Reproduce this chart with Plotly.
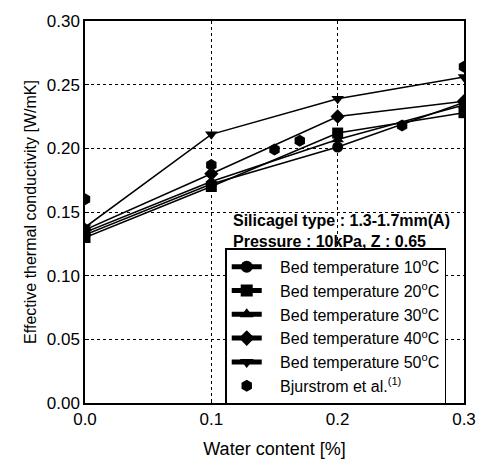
import plotly.graph_objects as go

water = [0.0, 0.1, 0.2, 0.3]
t10 = [0.132, 0.172, 0.201, 0.236]
t20 = [0.130, 0.170, 0.212, 0.228]
t30 = [0.134, 0.174, 0.207, 0.234]
t40 = [0.136, 0.180, 0.225, 0.237]
t50 = [0.138, 0.211, 0.239, 0.256]
bj_x = [0.0, 0.1, 0.150, 0.170, 0.251, 0.3]
bj_y = [0.160, 0.187, 0.199, 0.206, 0.218, 0.264]

PAD = "\u00a0\u00a0\u00a0"
series = [
    ("Bed temperature 10<sup>o</sup>C", t10, "circle"),
    ("Bed temperature 20<sup>o</sup>C", t20, "square"),
    ("Bed temperature 30<sup>o</sup>C", t30, "triangle-up"),
    ("Bed temperature 40<sup>o</sup>C", t40, "diamond"),
    ("Bed temperature 50<sup>o</sup>C", t50, "triangle-down"),
]

FONT = "Liberation Sans, Arial, sans-serif"

fig = go.Figure()
for name, ys, sym in series:
    fig.add_trace(go.Scatter(
        x=water, y=ys, name=PAD + name, mode="lines+markers",
        line=dict(color="black", width=1.5),
        marker=dict(symbol=sym, size=11, color="black"),
    ))
fig.add_trace(go.Scatter(
    x=bj_x, y=bj_y, name=PAD + "Bjurstrom et al.<sup>(1)</sup>", mode="markers",
    marker=dict(symbol="hexagon", size=12, color="black"),
))

axis_common = dict(
    showline=True, linecolor="black", linewidth=1.5, mirror=True,
    showgrid=True, gridcolor="black", griddash="dot", gridwidth=1,
    zeroline=False, ticks="inside", ticklen=4, tickcolor="black",
    tickfont=dict(family=FONT, size=17, color="black"),
)

fig.update_xaxes(range=[0, 0.3], tickvals=[0.0, 0.1, 0.2, 0.3], tickformat=".1f",
                 title=dict(text="Water content [%]", standoff=14,
                            font=dict(family=FONT, size=18, color="black")),
                 **axis_common)
fig.update_yaxes(range=[0, 0.3], dtick=0.05, tickformat=".2f",
                 title=dict(text="Effective thermal conductivity [W/mK]", standoff=6,
                            font=dict(family=FONT, size=16, color="black")),
                 **axis_common)

fig.add_annotation(
    x=0.385, y=0.505, xref="paper", yref="paper", xanchor="left", yanchor="top",
    text="<b>Silicagel type : 1.3-1.7mm(A)</b><br><b>Pressure : 10kPa, Z : 0.65</b>",
    showarrow=False, align="left",
    font=dict(family=FONT, size=16, color="black"),
)

fig.update_layout(
    width=488, height=468,
    margin=dict(l=85, r=19, t=15, b=61),
    paper_bgcolor="white", plot_bgcolor="white",
    font=dict(family=FONT, size=16, color="black"),
    legend=dict(x=0.37, y=0.405, xanchor="left", yanchor="top",
                bgcolor="white", bordercolor="black", borderwidth=1.5,
                font=dict(family=FONT, size=16, color="black"), tracegroupgap=0,
                itemsizing="constant"),
    showlegend=True,
)

fig.write_html("out.html")
